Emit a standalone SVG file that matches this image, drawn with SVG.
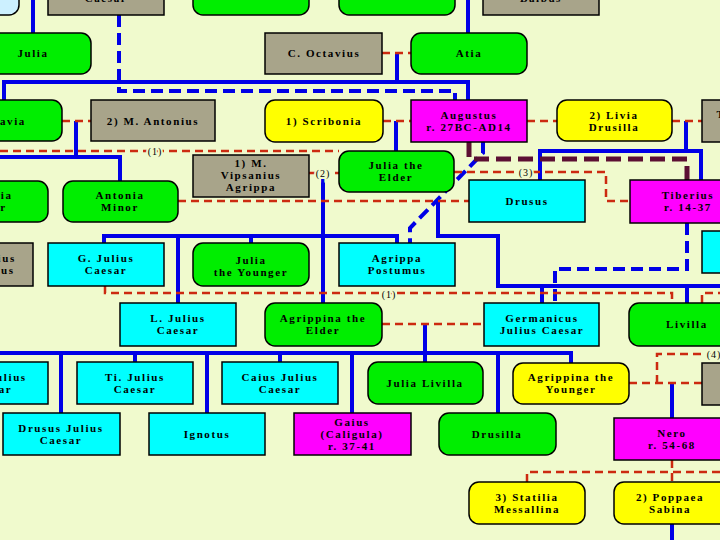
<svg xmlns="http://www.w3.org/2000/svg" width="720" height="540" viewBox="0 0 720 540">
<defs>
<style>
.box{stroke:#000;stroke-width:1.5}
.gr{fill:#00EE00}.gy{fill:#A8A48A}.mg{fill:#FF00FF}.cy{fill:#00FFFF}.ye{fill:#FFFF00}.lb{fill:#CCF0FF}
.t{font-family:"Liberation Serif","Times New Roman",serif;font-weight:bold;font-size:11px;letter-spacing:1.6px;text-anchor:middle;fill:#000}
.b{stroke:#0000E6;stroke-width:4;fill:none}
.bd{stroke:#0000E6;stroke-width:4;fill:none;stroke-dasharray:12 6}
.r{stroke:#CC2A10;stroke-width:2.5;fill:none;stroke-dasharray:8 5}
.m{stroke:#5C0F33;stroke-width:5;fill:none;stroke-dasharray:15 7}
.lbl{font-family:"Liberation Serif","Times New Roman",serif;font-size:10px;letter-spacing:1px;text-anchor:middle;fill:#000;stroke:#F0FACD;stroke-width:4;paint-order:stroke}
</style>
</defs>
<rect x="0" y="0" width="720" height="540" fill="#F0FACD"/>
<g id="connectors">
<path class="b" d="M33 0V33M468 0V33M4 100V82H468V100M397 53V82"/>
<path class="b" d="M76 121V157M-12 181V157H120V181M396 121V151M686 121V151M540 180V151H701V180"/>
<path class="b" d="M323 177V303M104 243V236H397V243M251 236V243M178 236V303"/>
<path class="b" d="M438 201V236H498V286H720M542 286V303M687 286V303"/>
<path class="b" d="M425 324V362M-10 362V353H571V363M61 353V413M135 353V362M207 353V413M280 353V362M352 353V413M498 353V413"/>
<path class="b" d="M672 383V418M672 524V540"/>
<path class="bd" d="M119 15V91H455V100M483 142V153L410 228V243M687 223V269H555V303"/>
<path class="m" d="M469 142V159H687V180"/>
<path class="r" d="M382 53H411M62 121H91M383 121H411M527 121H557M672 121H702"/>
<path class="r" d="M0 151H339M309 173H339M454 172H606V201H630M178 201H469"/>
<path class="r" d="M105 286V293H672V303M702 303V293H720M382 324H484"/>
<path class="r" d="M629 383H702M657 383V354H720M672 460V482M527 482V472H720"/>
<text class="lbl" x="155" y="155">(1)</text>
<text class="lbl" x="323" y="177">(2)</text>
<text class="lbl" x="526" y="176">(3)</text>
<text class="lbl" x="389" y="298">(1)</text>
<text class="lbl" x="714" y="358">(4)</text>
</g>
<g id="n-top1"><rect class="box lb" x="-97" y="-30" width="116" height="45" rx="10"/></g>
<g id="n-caesar"><rect class="box gy" x="48" y="-27" width="116" height="42"/><text class="t" x="106" y="2">Caesar</text></g>
<g id="n-top3"><rect class="box gr" x="193" y="-27" width="116" height="42" rx="10"/></g>
<g id="n-top4"><rect class="box gr" x="339" y="-27" width="116" height="42" rx="10"/></g>
<g id="n-balbus"><rect class="box gy" x="483" y="-27" width="116" height="42"/><text class="t" x="541" y="2">Balbus</text></g>
<g id="n-julia"><rect class="box gr" x="-25" y="33" width="116" height="41" rx="10"/><text class="t" x="33" y="57">Julia</text></g>
<g id="n-octavius"><rect class="box gy" x="265" y="33" width="117" height="41"/><text class="t" x="324" y="57">C. Octavius</text></g>
<g id="n-atia"><rect class="box gr" x="411" y="33" width="116" height="41" rx="10"/><text class="t" x="469" y="57">Atia</text></g>
<g id="n-octavia"><rect class="box gr" x="-54" y="100" width="116" height="41" rx="10"/><text class="t" x="2" y="125">Octavia</text></g>
<g id="n-antonius"><rect class="box gy" x="91" y="100" width="124" height="41"/><text class="t" x="153" y="125">2) M. Antonius</text></g>
<g id="n-scribonia"><rect class="box ye" x="265" y="100" width="118" height="42" rx="10"/><text class="t" x="324" y="125">1) Scribonia</text></g>
<g id="n-augustus"><rect class="box mg" x="411" y="100" width="116" height="42"/><text class="t" x="469" y="119">Augustus</text><text class="t" x="469" y="131">r. 27BC-AD14</text></g>
<g id="n-livia"><rect class="box ye" x="557" y="100" width="115" height="41" rx="10"/><text class="t" x="614" y="119">2) Livia</text><text class="t" x="614" y="131">Drusilla</text></g>
<g id="n-ticlaudius"><rect class="box gy" x="702" y="100" width="116" height="42"/><text class="t" x="755" y="118">Ti. Claudius</text><text class="t" x="755" y="130">Nero</text></g>
<g id="n-antoniamaior"><rect class="box gr" x="-68" y="181" width="116" height="41" rx="10"/><text class="t" x="-12" y="199">Antonia</text><text class="t" x="-12" y="211">Maior</text></g>
<g id="n-antoniaminor"><rect class="box gr" x="63" y="181" width="115" height="41" rx="10"/><text class="t" x="120" y="199">Antonia</text><text class="t" x="120" y="211">Minor</text></g>
<g id="n-agrippa"><rect class="box gy" x="193" y="155" width="116" height="42"/><text class="t" x="251" y="167">1) M.</text><text class="t" x="251" y="179">Vipsanius</text><text class="t" x="251" y="191">Agrippa</text></g>
<g id="n-juliaelder"><rect class="box gr" x="339" y="151" width="115" height="41" rx="10"/><text class="t" x="396" y="169">Julia the</text><text class="t" x="396" y="181">Elder</text></g>
<g id="n-drusus"><rect class="box cy" x="469" y="180" width="116" height="42"/><text class="t" x="527" y="205">Drusus</text></g>
<g id="n-tiberius"><rect class="box mg" x="630" y="180" width="116" height="43"/><text class="t" x="688" y="199">Tiberius</text><text class="t" x="688" y="211">r. 14-37</text></g>
<g id="n-rightcyan"><rect class="box cy" x="702" y="231" width="116" height="42"/></g>
<g id="n-marcellus"><rect class="box gy" x="-83" y="243" width="116" height="43"/><text class="t" x="-22" y="262">M. Claudius</text><text class="t" x="-16" y="274">Marcellus</text></g>
<g id="n-gjulius"><rect class="box cy" x="48" y="243" width="116" height="43"/><text class="t" x="106" y="262">G. Julius</text><text class="t" x="106" y="274">Caesar</text></g>
<g id="n-juliayounger"><rect class="box gr" x="193" y="243" width="116" height="43" rx="10"/><text class="t" x="251" y="264">Julia</text><text class="t" x="251" y="276">the Younger</text></g>
<g id="n-postumus"><rect class="box cy" x="339" y="243" width="116" height="43"/><text class="t" x="397" y="262">Agrippa</text><text class="t" x="397" y="274">Postumus</text></g>
<g id="n-ljulius"><rect class="box cy" x="120" y="303" width="116" height="43"/><text class="t" x="178" y="322">L. Julius</text><text class="t" x="178" y="334">Caesar</text></g>
<g id="n-agrippinaelder"><rect class="box gr" x="265" y="303" width="117" height="43" rx="10"/><text class="t" x="323" y="322">Agrippina the</text><text class="t" x="323" y="334">Elder</text></g>
<g id="n-germanicus"><rect class="box cy" x="484" y="303" width="115" height="43"/><text class="t" x="542" y="322">Germanicus</text><text class="t" x="542" y="334">Julius Caesar</text></g>
<g id="n-livilla"><rect class="box gr" x="629" y="303" width="116" height="43" rx="10"/><text class="t" x="687" y="328">Livilla</text></g>
<g id="n-nerojulius"><rect class="box cy" x="-68" y="362" width="116" height="42"/><text class="t" x="-9" y="381">Nero Julius</text><text class="t" x="-9" y="393">Caesar</text></g>
<g id="n-tijulius"><rect class="box cy" x="77" y="362" width="116" height="42"/><text class="t" x="135" y="381">Ti. Julius</text><text class="t" x="135" y="393">Caesar</text></g>
<g id="n-caiusjulius"><rect class="box cy" x="222" y="362" width="116" height="42"/><text class="t" x="280" y="381">Caius Julius</text><text class="t" x="280" y="393">Caesar</text></g>
<g id="n-julialivilla"><rect class="box gr" x="368" y="362" width="115" height="42" rx="10"/><text class="t" x="425" y="387">Julia Livilla</text></g>
<g id="n-agrippinayounger"><rect class="box ye" x="513" y="363" width="116" height="41" rx="10"/><text class="t" x="571" y="381">Agrippina the</text><text class="t" x="571" y="393">Younger</text></g>
<g id="n-domitius"><rect class="box gy" x="702" y="363" width="116" height="42"/><text class="t" x="762" y="385">Cn. Domitius</text><text class="t" x="762" y="397">Ahenobarbus</text></g>
<g id="n-drususjulius"><rect class="box cy" x="3" y="413" width="117" height="42"/><text class="t" x="61" y="432">Drusus Julius</text><text class="t" x="61" y="444">Caesar</text></g>
<g id="n-ignotus"><rect class="box cy" x="149" y="413" width="116" height="42"/><text class="t" x="207" y="438">Ignotus</text></g>
<g id="n-caligula"><rect class="box mg" x="294" y="413" width="117" height="42"/><text class="t" x="352" y="426">Gaius</text><text class="t" x="352" y="438">(Caligula)</text><text class="t" x="352" y="450">r. 37-41</text></g>
<g id="n-drusilla"><rect class="box gr" x="439" y="413" width="117" height="42" rx="10"/><text class="t" x="497" y="438">Drusilla</text></g>
<g id="n-nero"><rect class="box mg" x="614" y="418" width="116" height="42"/><text class="t" x="672" y="437">Nero</text><text class="t" x="672" y="449">r. 54-68</text></g>
<g id="n-statilia"><rect class="box ye" x="469" y="482" width="116" height="42" rx="10"/><text class="t" x="527" y="501">3) Statilia</text><text class="t" x="527" y="513">Messallina</text></g>
<g id="n-poppaea"><rect class="box ye" x="614" y="482" width="116" height="42" rx="10"/><text class="t" x="670" y="501">2) Poppaea</text><text class="t" x="670" y="513">Sabina</text></g>
</svg>
